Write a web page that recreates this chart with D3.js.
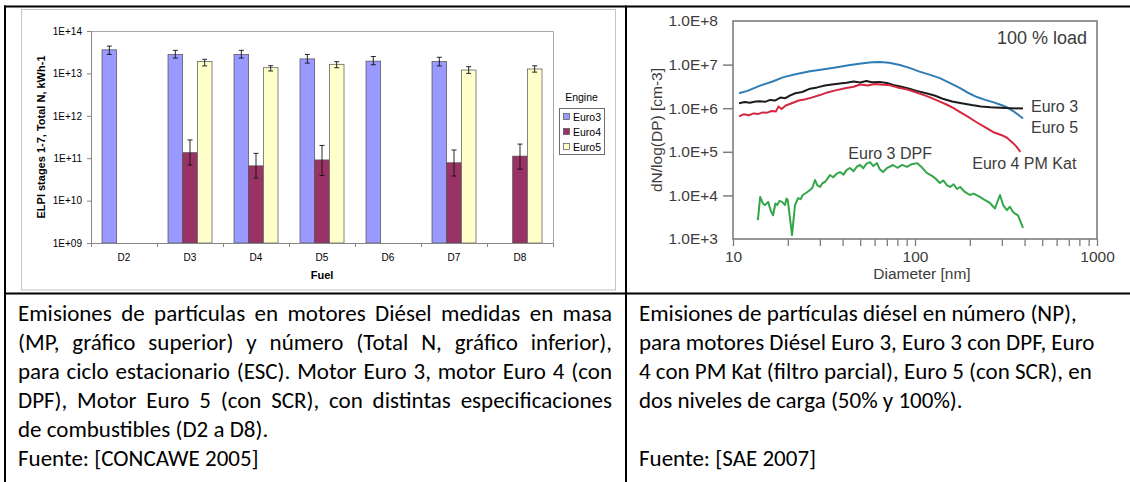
<!DOCTYPE html>
<html>
<head>
<meta charset="utf-8">
<script src="https://cdn.jsdelivr.net/npm/d3@7"></script>
<style>
  body { margin: 0; background: #fff; }
  #page { width: 1130px; height: 482px; overflow: hidden; }
  .xl text { font-family: "Liberation Sans", Arial, sans-serif; }
  .fig text { font-family: "Liberation Sans", Arial, sans-serif; fill: #3c3c3c; }
  .caption { font-family: Carlito, Calibri, Lato, sans-serif; font-size: 23px; fill: #000; }
</style>
</head>
<body>
<div id="page"></div>
<script>
// ---- left chart: ELPI stages 1-7, total N per fuel and engine ----
const fuels = ["D2", "D3", "D4", "D5", "D6", "D7", "D8"];
const engines = ["Euro3", "Euro4", "Euro5"];
const engineColors = ["#9999ff", "#993366", "#ffffcc"];

const euro3Total = [3.6e13, 2.8e13, 2.8e13, 2.2e13, 1.95e13, 1.9e13, null];
const euro3Low   = [2.8e13, 2.3e13, 2.3e13, 1.75e13, 1.6e13, 1.5e13, null];
const euro3High  = [4.4e13, 3.5e13, 3.5e13, 2.8e13, 2.5e13, 2.4e13, null];
const euro4Total = [null, 1.35e11, 6.6e10, 9.1e10, null, 7.8e10, 1.12e11];
const euro4Low   = [null, 6.9e10, 3.4e10, 3.9e10, null, 3.8e10, 5.5e10];
const euro4High  = [null, 2.7e11, 1.3e11, 2.0e11, null, 1.56e11, 2.15e11];
const euro5Total = [null, 1.9e13, 1.36e13, 1.64e13, null, 1.2e13, 1.27e13];
const euro5Low   = [null, 1.5e13, 1.14e13, 1.36e13, null, 1.0e13, 1.07e13];
const euro5High  = [null, 2.15e13, 1.52e13, 1.89e13, null, 1.44e13, 1.51e13];

const totalTicks = [1e9, 1e10, 1e11, 1e12, 1e13, 1e14];
const totalTickLabels = ["1E+09", "1E+10", "1E+11", "1E+12", "1E+13", "1E+14"];

// ---- right chart: size distributions at 100 % load ----
const diamTicks = [10, 20, 30, 40, 50, 60, 70, 80, 90, 100, 200, 300, 400, 500, 600, 700, 800, 900, 1000];
const diamLabels = [10, 100, 1000];
const dnTicks = [1e3, 1e4, 1e5, 1e6, 1e7, 1e8];
const dnTickLabels = ["1.0E+3", "1.0E+4", "1.0E+5", "1.0E+6", "1.0E+7", "1.0E+8"];

const e5Diam = [10.8, 12, 14.1, 16.5, 18.8, 22, 26.5, 31, 37.3, 44, 51.8, 58, 64.2, 72, 82.7, 94, 106, 120, 137, 155, 177, 198, 219, 243, 268, 295, 320, 355, 392];
const e5Dn = [2.2e6, 2.5e6, 3.3e6, 4.1e6, 5.1e6, 6.0e6, 7.0e6, 7.7e6, 8.7e6, 9.8e6, 1.08e7, 1.13e7, 1.15e7, 1.1e7, 9.8e6, 8.3e6, 6.9e6, 5.9e6, 4.9e6, 3.8e6, 2.9e6, 2.2e6, 1.8e6, 1.55e6, 1.38e6, 1.2e6, 1.05e6, 8.0e5, 5.8e5];

const e3Diam = [10.8, 11.6, 12.4, 13.3, 14.1, 15.0, 16.0, 17.0, 18.2, 19.4, 20.5, 22, 24, 26.5, 29, 32, 35, 38.7, 42, 46, 50, 54, 58, 64, 70, 76, 83, 92, 102, 115, 128, 142, 160, 180, 205, 230, 260, 295, 335, 392];
const e3Dn = [1.3e6, 1.38e6, 1.33e6, 1.42e6, 1.45e6, 1.4e6, 1.55e6, 1.5e6, 1.75e6, 1.7e6, 1.95e6, 2.2e6, 2.35e6, 2.8e6, 3.0e6, 3.3e6, 3.5e6, 3.7e6, 3.85e6, 4.1e6, 3.9e6, 4.2e6, 3.95e6, 4.0e6, 3.8e6, 3.4e6, 3.15e6, 2.85e6, 2.5e6, 2.2e6, 1.95e6, 1.65e6, 1.42e6, 1.3e6, 1.18e6, 1.1e6, 1.05e6, 1.02e6, 1.0e6, 9.8e5];

const e4Diam = [10.8, 11.5, 12.2, 13, 13.8, 14.6, 15.4, 16.3, 17.2, 17.8, 18.5, 19.5, 21, 23, 25, 27, 30, 33, 37, 42, 46, 50, 55, 60, 66, 72, 80, 90, 100, 110, 122, 135, 150, 163, 177, 195, 219, 245, 268, 300, 320, 345, 362, 379];
const e4Dn = [6.5e5, 7.3e5, 6.9e5, 7.6e5, 7.4e5, 8.0e5, 7.9e5, 8.6e5, 8.4e5, 1.1e6, 9.6e5, 1.15e6, 1.3e6, 1.5e6, 1.6e6, 1.75e6, 2.0e6, 2.3e6, 2.6e6, 2.9e6, 3.1e6, 3.5e6, 3.3e6, 3.6e6, 3.45e6, 3.4e6, 3.0e6, 2.7e6, 2.35e6, 2.05e6, 1.75e6, 1.45e6, 1.2e6, 1.0e6, 8.1e5, 6.4e5, 4.7e5, 3.6e5, 2.85e5, 2.4e5, 2.1e5, 1.6e5, 1.3e5, 1.0e5];

const dpfDiam = [13.7, 14.1, 14.6, 15.0, 15.6, 16.1, 16.6, 17.1, 17.5, 18.0, 18.6, 19.3, 19.7, 20.0, 21.1, 21.9, 22.8, 23.5, 24.2, 25.3, 26.5, 27.3, 28.2, 29.1, 30.1, 31.0, 32.0, 33.0, 34.1, 35.5, 37.0, 38.7, 40.5, 42.0, 43.9, 46, 48, 49.9, 52, 54, 56.6, 59, 61.8, 64, 66.7, 70, 75.7, 80, 85, 90.3, 96, 102.6, 109, 116, 124, 130, 137, 143, 150, 156, 163, 170, 177, 188, 200, 210, 227, 240, 258, 275, 293, 305, 320, 332, 345, 355, 368, 380, 392];
const dpfDn = [2.7e3, 9.2e3, 6.5e3, 6.0e3, 7.1e3, 4.5e3, 3.5e3, 6.5e3, 6.0e3, 7.5e3, 7.1e3, 6.0e3, 8.5e3, 7.8e3, 1.23e3, 6.0e3, 8.7e3, 8.2e3, 1.02e4, 1.15e4, 1.33e4, 1.5e4, 2.25e4, 1.7e4, 1.56e4, 1.9e4, 2.03e4, 2.4e4, 2.94e4, 2.6e4, 3.1e4, 3.44e4, 3.0e4, 3.8e4, 4.25e4, 3.6e4, 4.6e4, 4.98e4, 4.2e4, 5.3e4, 5.8e4, 4.7e4, 5.5e4, 4.0e4, 3.44e4, 4.2e4, 4.98e4, 4.3e4, 5.0e4, 4.5e4, 5.2e4, 5.5e4, 4.4e4, 3.27e4, 2.8e4, 2.4e4, 1.92e4, 2.2e4, 1.7e4, 1.56e4, 1.8e4, 1.4e4, 1.56e4, 1.2e4, 1.02e4, 1.1e4, 9.2e3, 8.0e3, 6.7e3, 5.0e3, 1.02e4, 6.0e3, 4.6e3, 5.5e3, 4.2e3, 3.8e3, 3.5e3, 2.5e3, 1.8e3];

// ---- captions ----
const captionLeft = [
  "Emisiones de partículas en motores Diésel medidas en masa",
  "(MP, gráfico superior) y número (Total N, gráfico inferior),",
  "para ciclo estacionario (ESC). Motor Euro 3, motor Euro 4 (con",
  "DPF), Motor Euro 5 (con SCR), con distintas especificaciones",
  "de combustibles (D2 a D8).",
  "Fuente: [CONCAWE 2005]"
];
const captionRight = [
  "Emisiones de partículas diésel en número (NP),",
  "para motores Diésel Euro 3, Euro 3 con DPF, Euro",
  "4 con PM Kat (filtro parcial), Euro 5 (con SCR), en",
  "dos niveles de carga (50% y 100%).",
  "",
  "Fuente: [SAE 2007]"
];
const justifiedLeft = 4;   // first lines of the left caption are justified


var svg = d3.select("#page")
    .append("svg")
    .attr("width", 1130)
    .attr("height", 482)

// ================= left chart (Excel style) =================
const xl = svg.append("g").attr("class", "xl");

xl.append("rect")
    .attr("x", 21.5).attr("y", 9.5)
    .attr("width", 594).attr("height", 280.5)
    .attr("fill", "#fff")
    .attr("stroke", "#c4c4c4");

const x0 = d3.scaleBand().domain(fuels).range([91, 553]);
const x1 = d3.scaleBand().domain(engines).range([0, x0.bandwidth()]).paddingOuter(0.75);
const yTot = d3.scaleLog().domain([1e9, 1e14]).range([243, 31]);

// plot area frame (top and right)
xl.append("path")
    .attr("d", `M${x0.range()[0]},${yTot(1e14) + 0.5}H${x0.range()[1] + 0.5}V${yTot(1e9)}`)
    .attr("fill", "none")
    .attr("stroke", "#a8a8a8");

const seriesTotals = [euro3Total, euro4Total, euro5Total];
const seriesLow = [euro3Low, euro4Low, euro5Low];
const seriesHigh = [euro3High, euro4High, euro5High];

let barData = [];
engines.forEach(function (eng, s) {
    fuels.forEach(function (f, i) {
        if (seriesTotals[s][i] != null) {
            barData.push({ fuel: f, engine: eng, color: engineColors[s],
                value: seriesTotals[s][i], lo: seriesLow[s][i], hi: seriesHigh[s][i] });
        }
    });
});

xl.selectAll("rect.bar")
    .data(barData)
    .enter().append("rect")
    .attr("class", "bar")
    .attr("x", d => x0(d.fuel) + x1(d.engine))
    .attr("y", d => yTot(d.value))
    .attr("width", x1.bandwidth())
    .attr("height", d => yTot(1e9) - yTot(d.value))
    .attr("fill", d => d.color)
    .attr("stroke", "#505050")
    .attr("stroke-width", 0.7);

// error bars
const errG = xl.selectAll("g.err")
    .data(barData)
    .enter().append("g")
    .attr("class", "err")
    .attr("transform", d => `translate(${x0(d.fuel) + x1(d.engine) + x1.bandwidth() / 2},0)`)
    .attr("stroke", "#111")
    .attr("stroke-width", 0.9);
errG.append("line").attr("y1", d => yTot(d.hi)).attr("y2", d => yTot(d.lo));
errG.append("line").attr("x1", -2.5).attr("x2", 2.5).attr("y1", d => yTot(d.hi)).attr("y2", d => yTot(d.hi));
errG.append("line").attr("x1", -2.5).attr("x2", 2.5).attr("y1", d => yTot(d.lo)).attr("y2", d => yTot(d.lo));

// axes
const yAxisL = xl.append("g")
    .attr("transform", `translate(${x0.range()[0]},0)`)
    .call(d3.axisLeft(yTot).tickValues(totalTicks)
        .tickFormat((d, i) => totalTickLabels[i]).tickSize(4).tickSizeOuter(0).tickPadding(5));
yAxisL.selectAll("path, line").attr("stroke", "#868686");
yAxisL.selectAll("text").attr("font-size", 10).attr("fill", "#000");

const xAxisL = xl.append("g")
    .attr("transform", `translate(0,${yTot(1e9)})`)
    .call(d3.axisBottom(x0).tickSize(0).tickPadding(11));
xAxisL.select(".domain").attr("stroke", "#868686");
xAxisL.selectAll("text").attr("font-size", 10).attr("fill", "#000");

const boundary = d3.scaleLinear().domain([0, fuels.length]).range(x0.range());
const xTickL = xl.append("g")
    .attr("transform", `translate(0,${yTot(1e9)})`)
    .call(d3.axisBottom(boundary).tickValues(d3.range(fuels.length + 1)).tickFormat("").tickSize(4));
xTickL.select(".domain").remove();
xTickL.selectAll("line").attr("stroke", "#868686");

xl.append("text")
    .attr("transform", "translate(45,137) rotate(-90)")
    .attr("text-anchor", "middle")
    .attr("font-size", 11).attr("font-weight", "bold")
    .text("ELPI stages 1-7, Total N, kWh-1");

xl.append("text")
    .attr("x", (x0.range()[0] + x0.range()[1]) / 2).attr("y", 279)
    .attr("text-anchor", "middle")
    .attr("font-size", 11).attr("font-weight", "bold")
    .text("Fuel");

// legend
const legend = xl.append("g").attr("transform", "translate(559,108)");
legend.append("text").attr("x", 22.5).attr("y", -7).attr("text-anchor", "middle")
    .attr("font-size", 10.5).attr("fill", "#000").text("Engine");
legend.append("rect").attr("x", 0.5).attr("y", 0.5).attr("width", 45).attr("height", 46)
    .attr("fill", "#fff").attr("stroke", "#6e6e6e");
const legItem = legend.selectAll("g.item")
    .data(engines)
    .enter().append("g")
    .attr("class", "item")
    .attr("transform", (d, i) => `translate(4,${9 + i * 15})`);
legItem.append("rect").attr("x", 0.5).attr("y", -3.5).attr("width", 6).attr("height", 6)
    .attr("fill", (d, i) => engineColors[i]).attr("stroke", "#505050").attr("stroke-width", 0.7);
legItem.append("text").attr("x", 10).attr("y", 3.8)
    .attr("font-size", 10.5).attr("fill", "#000").text(d => d);

// ================= right chart =================
const fig = svg.append("g").attr("class", "fig");

const xR = d3.scaleLog().domain([10, 1000]).range([733, 1097]);
const yR = d3.scaleLog().domain([1e3, 1e8]).range([239, 21]);

const curves = [
    { diam: e5Diam, dn: e5Dn, color: "#2f7db6" },
    { diam: e3Diam, dn: e3Dn, color: "#1c1c1c" },
    { diam: e4Diam, dn: e4Dn, color: "#d3283f" },
    { diam: dpfDiam, dn: dpfDn, color: "#34a64a" }
];

const line = d3.line()
    .x(d => xR(d[0]))
    .y(d => yR(d[1]));

fig.selectAll("path.curve")
    .data(curves)
    .enter().append("path")
    .attr("class", "curve")
    .attr("d", c => line(d3.zip(c.diam, c.dn)))
    .attr("fill", "none")
    .attr("stroke", c => c.color)
    .attr("stroke-width", 2)
    .attr("stroke-linejoin", "round");

fig.append("rect")
    .attr("x", xR(10)).attr("y", yR(1e8))
    .attr("width", xR(1000) - xR(10)).attr("height", yR(1e3) - yR(1e8))
    .attr("fill", "none")
    .attr("stroke", "#7d7d7d")
    .attr("stroke-width", 1.6);

const yAxisR = fig.append("g")
    .attr("transform", `translate(${xR(10)},0)`)
    .call(d3.axisLeft(yR).tickValues(dnTicks)
        .tickFormat((d, i) => dnTickLabels[i]).tickSize(10).tickSizeOuter(0).tickPadding(5));
yAxisR.select(".domain").remove();
yAxisR.selectAll(".tick line")
    .attr("x2", d => (d === 1e3 || d === 1e8) ? 0 : -10)
    .attr("stroke", "#7d7d7d").attr("stroke-width", 1.5);
yAxisR.selectAll("text").attr("font-size", 15.5).attr("fill", "#404040");

const xAxisR = fig.append("g")
    .attr("transform", `translate(0,${yR(1e3)})`)
    .call(d3.axisBottom(xR).tickValues(diamTicks)
        .tickFormat(d => diamLabels.includes(d) ? String(d) : "").tickSize(7).tickPadding(5));
xAxisR.select(".domain").remove();
xAxisR.selectAll(".tick line").attr("stroke", "#7d7d7d").attr("stroke-width", 1.3);
xAxisR.selectAll("text").attr("font-size", 15.5).attr("fill", "#404040");

fig.append("text")
    .attr("x", xR(100) + 7).attr("y", 279)
    .attr("text-anchor", "middle")
    .attr("font-size", 15.5)
    .text("Diameter [nm]");

fig.append("text")
    .attr("transform", `translate(662,${(yR(1e3) + yR(1e8)) / 2}) rotate(-90)`)
    .attr("text-anchor", "middle")
    .attr("font-size", 15.5)
    .text("dN/log(DP) [cm-3]");

fig.append("text")
    .attr("x", 1087).attr("y", 44)
    .attr("text-anchor", "end")
    .attr("font-size", 18)
    .text("100 % load");

// curve labels, placed from the curves' end points
const lastOf = a => a[a.length - 1];
fig.append("text").attr("x", xR(lastOf(e3Diam)) + 8).attr("y", yR(lastOf(e3Dn)) + 3)
    .attr("font-size", 16).text("Euro 3");
fig.append("text").attr("x", xR(lastOf(e5Diam)) + 8).attr("y", yR(lastOf(e5Dn)) + 14)
    .attr("font-size", 16).text("Euro 5");
fig.append("text").attr("x", xR(lastOf(e4Diam)) + 4).attr("y", yR(lastOf(e4Dn)) + 17)
    .attr("text-anchor", "middle").attr("font-size", 16).text("Euro 4 PM Kat");
fig.append("text").attr("x", xR(73)).attr("y", yR(1e5) + 7)
    .attr("text-anchor", "middle").attr("font-size", 16).text("Euro 3 DPF");

// ================= captions =================
const capG = svg.append("g").attr("class", "caption");

capG.selectAll("text.left")
    .data(captionLeft)
    .enter().append("text")
    .attr("class", "left")
    .attr("x", 18)
    .attr("y", (d, i) => 321 + i * 29)
    .text(d => d)
    .each(function (d, i) {
        if (i < justifiedLeft) {
            let len = this.getComputedTextLength();
            let spaces = d.split(" ").length - 1;
            d3.select(this).attr("word-spacing", (594 - len) / spaces);
        }
    });

capG.selectAll("text.right")
    .data(captionRight)
    .enter().append("text")
    .attr("class", "right")
    .attr("x", 639)
    .attr("y", (d, i) => 321 + i * 29)
    .text(d => d);

// ================= table rules =================
const rules = svg.append("g").attr("stroke", "#000").attr("stroke-width", 2);
rules.append("line").attr("x1", 5).attr("x2", 5).attr("y1", 5.5).attr("y2", 482);
rules.append("line").attr("x1", 4).attr("x2", 1130).attr("y1", 6.5).attr("y2", 6.5);
rules.append("line").attr("x1", 626).attr("x2", 626).attr("y1", 5.5).attr("y2", 482);
rules.append("line").attr("x1", 4).attr("x2", 1130).attr("y1", 293.5).attr("y2", 293.5);
</script>
</body>
</html>
